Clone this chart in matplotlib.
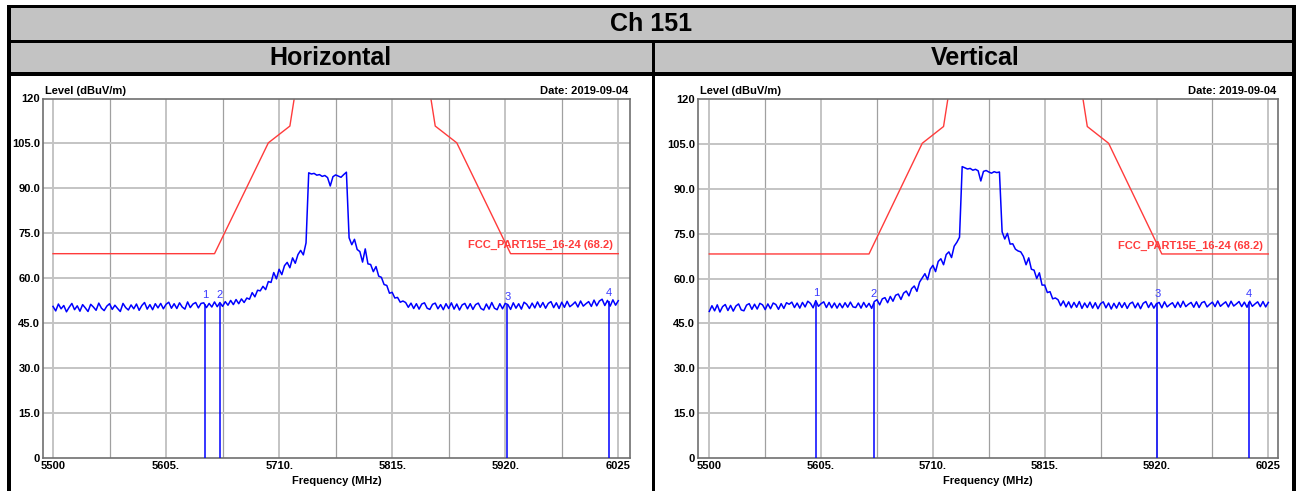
import numpy as np
import matplotlib
matplotlib.use("Agg")
import matplotlib.pyplot as plt
from matplotlib.patches import Rectangle

plt.rcParams['font.family'] = ['Liberation Sans', 'DejaVu Sans']

# Datos del barrido (paso de 2.5 MHz, 5500 - 6025 MHz)
freq = np.linspace(5500, 6025, 211)

nivel_h = [
    50.6, 49.1, 51.4, 49.8, 50.9, 48.8, 50.3, 51.6, 49.5, 50.8,
    49.0, 51.2, 50.1, 48.9, 51.3, 50.4, 49.3, 51.7, 50.0, 49.2,
    50.7, 51.5, 49.6, 51.0, 49.9, 48.9, 51.6, 50.2, 49.4, 51.1,
    49.8, 51.4, 49.3, 50.9, 51.9, 49.7, 51.2, 49.5, 51.5, 50.1,
    51.6, 49.8, 51.3, 52.0, 50.0, 51.5, 49.9, 51.8, 50.4, 49.7,
    52.1, 50.2, 51.4, 51.9, 50.1, 51.6,
    51.8, 50.2, 51.6, 50.4, 52.1, 50.5, 51.9,
    50.6, 52.2, 51.0, 52.6, 51.2, 52.9, 51.5, 53.1, 51.9, 53.4,
    53.0, 55.2, 53.8, 56.0, 55.8, 57.3, 56.2, 58.9,
    58.6, 61.9, 59.8, 63.0, 61.2, 64.2, 65.3, 63.5, 66.8, 65.0, 67.9, 69.3, 67.8, 71.8,
    95.2, 94.8, 95.0, 94.4, 94.6, 94.0, 94.3, 93.6, 90.8, 93.9, 94.5, 94.1, 93.7, 94.6, 95.4,
    73.5, 71.2, 73.0, 69.6, 68.9, 65.4, 69.8, 64.8, 64.6, 62.2, 63.9, 60.7, 60.3, 57.9,
    57.6, 55.0, 55.3, 53.4, 53.6, 52.0, 52.4,
    51.9, 50.3, 51.7, 49.9, 51.5, 49.7, 51.4, 51.8, 50.0, 49.6,
    51.3, 51.7, 49.8, 51.2, 49.5, 51.5, 49.9, 51.8, 49.7, 51.4,
    49.4, 51.1, 51.6, 49.8, 51.5, 49.6, 51.2, 51.7, 49.9, 49.4,
    51.4, 49.7, 51.9, 50.0, 49.5, 51.5, 49.8, 51.6, 51.2, 49.6,
    51.8, 50.0, 51.5, 49.7, 52.0, 51.3, 49.9, 51.7, 50.1, 52.1,
    50.3, 51.9, 50.0, 51.6, 52.2, 50.2, 51.8, 49.9, 52.0, 50.3,
    52.3, 50.5, 51.2, 52.1, 50.4, 52.4, 50.7, 51.5, 52.2, 50.6,
    52.7, 50.8, 52.4, 53.0, 50.9, 52.6, 50.7, 52.8, 51.0, 52.5,
]

nivel_v = [
    49.0, 50.9, 49.2, 51.2, 48.8, 50.6, 51.3, 49.3, 51.0, 49.1,
    50.8, 51.5, 49.5, 49.2, 51.1, 51.6, 49.7, 51.4, 49.8, 51.7,
    51.2, 49.6, 51.5, 49.9, 51.8, 51.3, 49.7, 51.6, 50.0, 51.9,
    51.4, 52.1, 50.3, 51.8, 50.1, 52.0, 50.5, 52.4, 51.7, 50.2,
    52.6, 50.7, 51.6, 52.2, 50.3, 52.0, 50.2, 51.8, 50.1, 51.7,
    50.2, 51.9, 50.4, 52.1, 50.5, 50.3,
    51.8, 50.1, 52.0, 50.4, 51.7, 50.0, 52.3,
    52.9, 51.2, 53.2, 53.6, 51.9, 54.0, 52.4, 54.4, 54.8, 53.0,
    55.1, 55.8, 54.2, 56.6, 57.5, 55.7, 58.8, 60.2,
    61.6, 59.6, 63.1, 64.4, 62.3, 65.7, 66.6, 64.6, 68.0, 68.9, 67.0, 70.8, 72.1, 73.8,
    97.4, 97.0, 96.6, 96.8, 96.2, 96.5, 96.0, 92.6, 95.8, 96.1, 95.6, 95.2, 95.7, 95.4, 95.6,
    75.6, 73.2, 75.1, 71.5, 71.6, 69.8, 69.2, 68.9, 67.4, 64.6, 66.9, 63.1, 62.8, 60.0,
    61.9, 57.8, 57.8, 55.3, 55.6, 53.2, 53.5,
    52.9, 50.9, 52.5, 50.5, 52.2, 50.2, 52.0, 50.4, 52.3, 50.0,
    51.8, 50.3, 52.1, 50.1, 51.9, 49.9, 51.6, 52.2, 50.2, 51.8,
    49.8, 51.7, 50.1, 52.0, 50.3, 51.9, 50.0, 51.6, 52.1, 50.2,
    51.8, 49.9, 51.7, 52.3, 50.3, 51.9, 50.1, 51.6, 52.0, 50.2,
    52.2, 50.5, 51.3, 51.9, 50.3, 52.1, 50.4, 52.4, 50.6, 51.4,
    52.0, 50.4, 52.2, 50.3, 51.9, 52.3, 50.5, 51.4, 52.1, 50.6,
    52.5, 50.7, 51.5, 52.2, 50.5, 52.4, 50.8, 51.5, 52.3, 50.6,
    52.1, 50.4, 52.4, 50.7, 51.5, 52.2, 50.6, 52.3, 50.5, 52.0,
]

# Línea límite FCC
lim_f = [5500, 5650, 5700, 5720, 5725, 5850, 5855, 5875, 5925, 6025]
lim_db = [68.2, 68.2, 105.2, 110.8, 122.2, 122.2, 110.8, 105.2, 68.2, 68.2]
lim_label = 'FCC_PART15E_16-24 (68.2)'

# Marcadores
mark_f_h = [5641, 5655, 5922, 6016]
mark_db_h = [51.4, 51.6, 51.0, 52.3]
mark_f_v = [5600, 5654.7, 5920.7, 6007]
mark_db_v = [52.2, 51.9, 51.8, 52.1]

x_ticks = [5500, 5605, 5710, 5815, 5920, 6025]
x_labels = ['5500', '5605.', '5710.', '5815.', '5920.', '6025']
y_ticks = [0, 15, 30, 45, 60, 75, 90, 105, 120]
y_labels = ['0', '15.0', '30.0', '45.0', '60.0', '75.0', '90.0', '105.0', '120']

W, H = 1298, 491
fig = plt.figure(figsize=(W / 100, H / 100), dpi=100)

# Fondo en coordenadas de píxel para la tabla
bg = fig.add_axes([0, 0, 1, 1])
bg.set_xlim(0, W)
bg.set_ylim(H, 0)
bg.axis('off')

gris = '#c3c3c3'
bg.add_patch(Rectangle((11, 8), 1281, 32, color=gris, lw=0))
bg.add_patch(Rectangle((11, 43), 1281, 29, color=gris, lw=0))
for (x, y, w, h) in [(7, 5, 1289, 3), (7, 40, 1289, 3), (7, 72, 1289, 4),
                     (7, 5, 4, 486), (1292, 5, 4, 486), (652, 40, 3, 451)]:
    bg.add_patch(Rectangle((x, y), w, h, color='black', lw=0))

bg.text(651, 24, 'Ch 151', ha='center', va='center', fontsize=18, fontweight='bold')
bg.text(330, 58, 'Horizontal', ha='center', va='center', fontsize=18, fontweight='bold')
bg.text(975, 58, 'Vertical', ha='center', va='center', fontsize=18, fontweight='bold')


def panel(box, xlim, nivel, mark_f, mark_db):
    x0, y0, x1, y1 = box
    ax = fig.add_axes([x0 / W, 1 - y1 / H, (x1 - x0) / W, (y1 - y0) / H])
    ax.set_xlim(*xlim)
    ax.set_ylim(0, 120)

    # Rejilla
    for i, g in enumerate(np.arange(5500, 6026, 52.5)):
        if i % 2 == 0:
            ax.axvline(g, color='#c4c4c4', lw=1.4, zorder=1)
        else:
            ax.axvline(g, color='#a0a0a0', lw=0.9, zorder=1)
    for g in range(15, 120, 15):
        ax.axhline(g, color='#c4c4c4', lw=1.4, zorder=1)

    ax.plot(lim_f, lim_db, color='#ff3b3b', lw=1.0, zorder=2)
    ax.text(6020, 69.3, lim_label, color='#ff3b3b', fontsize=8, fontweight='bold',
            ha='right', va='bottom', zorder=4)

    ax.plot(freq, nivel, color='#0000ff', lw=1.1, zorder=3)
    ax.vlines(mark_f, 0, mark_db, color='#0000ff', lw=1.1, zorder=3)
    for n, (mf, md) in enumerate(zip(mark_f, mark_db), start=1):
        ax.text(mf, md + 1.2, str(n), color='#3a3aff', fontsize=8, ha='center',
                va='bottom', zorder=4)

    ax.set_xticks(x_ticks, labels=x_labels)
    ax.set_yticks(y_ticks, labels=y_labels)
    ax.tick_params(length=0, labelsize=8, pad=2)
    for lab in ax.get_xticklabels() + ax.get_yticklabels():
        lab.set_fontweight('bold')
    for s in ax.spines.values():
        s.set_color('#707070')
        s.set_linewidth(1.2)

    bg.text(x0 + 2, y0 - 3, 'Level (dBuV/m)', fontsize=8, fontweight='bold',
            ha='left', va='bottom')
    bg.text(x1 - 2, y0 - 3, 'Date: 2019-09-04', fontsize=8, fontweight='bold',
            ha='right', va='bottom')
    bg.text((x0 + x1) / 2, 481, 'Frequency (MHz)', fontsize=8, fontweight='bold',
            ha='center', va='center')
    return ax


panel((43, 98.5, 630, 458), (5490.7, 6035.9), nivel_h, mark_f_h, mark_db_h)
panel((698, 99, 1278, 458), (5489.4, 6034.1), nivel_v, mark_f_v, mark_db_v)

fig.savefig('out.png', dpi=100)
